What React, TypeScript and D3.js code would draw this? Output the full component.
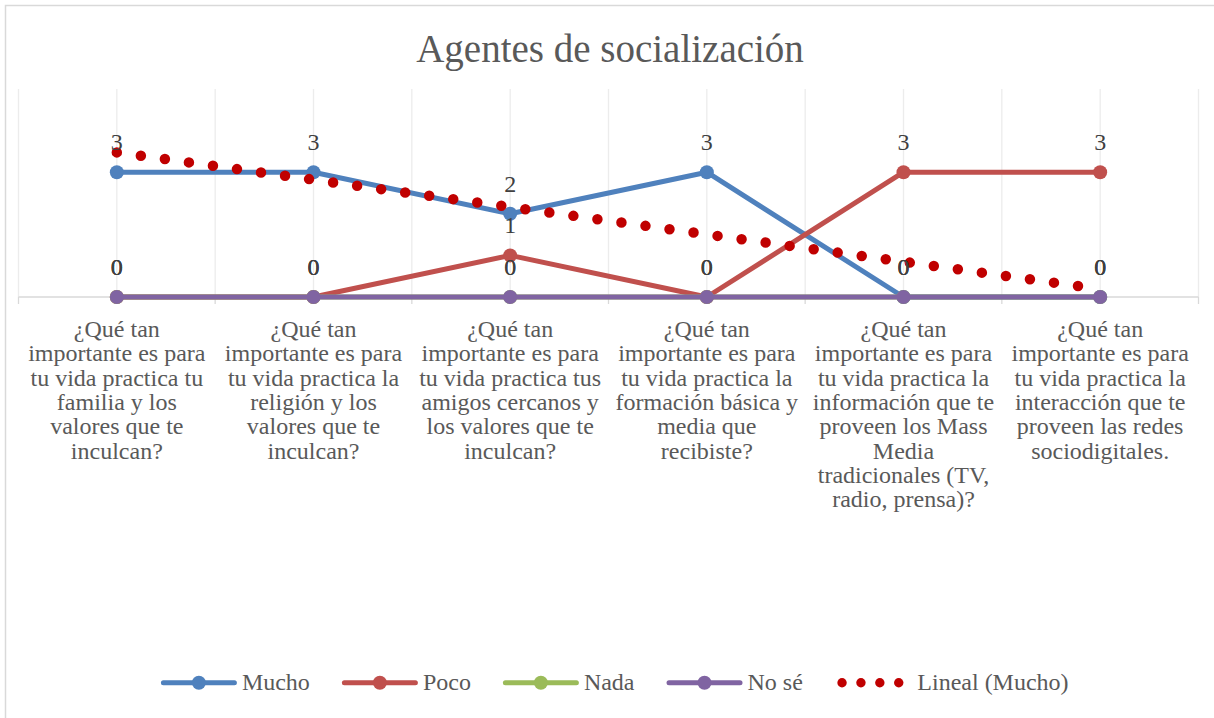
import React, { useMemo } from "react";
import * as d3 from "d3";

const title = "Agentes de socialización";

const categories: string[][] = [
  ["¿Qué tan", "importante es para", "tu vida practica tu", "familia y los", "valores que te", "inculcan?"],
  ["¿Qué tan", "importante es para", "tu vida practica la", "religión y los", "valores que te", "inculcan?"],
  ["¿Qué tan", "importante es para", "tu vida practica tus", "amigos cercanos y", "los valores que te", "inculcan?"],
  ["¿Qué tan", "importante es para", "tu vida practica la", "formación básica y", "media que", "recibiste?"],
  ["¿Qué tan", "importante es para", "tu vida practica la", "información que te", "proveen los Mass", "Media", "tradicionales (TV,", "radio, prensa)?"],
  ["¿Qué tan", "importante es para", "tu vida practica la", "interacción que te", "proveen las redes", "sociodigitales."],
];

const mucho = [3, 3, 2, 3, 0, 0];
const poco = [0, 0, 1, 0, 3, 3];
const nada = [0, 0, 0, 0, 0, 0];
const noSe = [0, 0, 0, 0, 0, 0];

const seriesNames = ["Mucho", "Poco", "Nada", "No sé"];
const seriesValues = [mucho, poco, nada, noSe];
const seriesColors = ["#4F81BD", "#C0504D", "#9BBB59", "#8064A2"];
const trendName = "Lineal (Mucho)";
const trendColor = "#C00000";

const W = 1214;
const H = 718;
const FONT = "'Liberation Serif', 'Times New Roman', serif";
const TEXT = "#595959";
const LABEL = "#404040";

function measure(text: string, size: number): number {
  if (typeof document === "undefined") return text.length * size * 0.5;
  const c = document.createElement("canvas");
  const ctx = c.getContext("2d");
  if (!ctx) return text.length * size * 0.5;
  ctx.font = `${size}px 'Liberation Serif'`;
  return ctx.measureText(text).width;
}

export default function App() {
  const plotLeft = 18.5;
  const plotRight = 1198.5;
  const plotTop = 89;
  const plotBottom = 297;

  const idx = d3.range(categories.length);
  const x = d3.scalePoint<number>().domain(idx).range([plotLeft, plotRight]).padding(0.5);
  const step = x.step();
  const y = d3.scaleLinear().domain([0, 5]).range([plotBottom, plotTop]);

  const line = d3
    .line<number>()
    .x((_, i) => x(i) as number)
    .y((d) => y(d));

  // linear trend (least squares) of "Mucho", x = 1..n
  const n = mucho.length;
  const xs = idx.map((i) => i + 1);
  const mx = d3.mean(xs) as number;
  const my = d3.mean(mucho) as number;
  const sxy = d3.sum(xs.map((xv, i) => (xv - mx) * (mucho[i] - my)));
  const sxx = d3.sum(xs.map((xv) => (xv - mx) ** 2));
  const slope = sxy / sxx;
  const intercept = my - slope * mx;
  const trendPts: [number, number][] = [
    [x(0) as number, y(intercept + slope * 1)],
    [x(n - 1) as number, y(intercept + slope * n)],
  ];
  const trendPath = d3.line()(trendPts) as string;

  // gridlines at boundaries and centers
  const gridXs: number[] = [];
  idx.forEach((i) => {
    gridXs.push((x(i) as number) - step / 2);
    gridXs.push(x(i) as number);
  });
  gridXs.push(plotRight);
  const boundaryXs = idx.map((i) => (x(i) as number) - step / 2).concat([plotRight]);

  // legend layout
  const legendFont = 24;
  const legend = useMemo(() => {
    const items = [
      ...seriesNames.map((name, i) => ({ name, color: seriesColors[i], trend: false })),
      { name: trendName, color: trendColor, trend: true },
    ];
    const symW = 71;
    const gapText = 7.5;
    const gapItem = 34.5;
    const extra = (t: boolean) => (t ? 1.5 : 0);
    const widths = items.map((it) => symW + extra(it.trend) + gapText + measure(it.name, legendFont));
    const total = d3.sum(widths) + gapItem * (items.length - 1);
    let cx = 616 - total / 2;
    return items.map((it, i) => {
      const r = { ...it, x: cx, textX: cx + symW + extra(it.trend) + gapText };
      cx += widths[i] + gapItem;
      return r;
    });
  }, []);
  const legendY = 682.7;

  const lineH = 24.3;
  const firstBaseline = 337;

  return (
    <svg
      width={W}
      height={H}
      style={{ position: "absolute", left: 0, top: 0, background: "#fff" }}
      fontFamily={FONT}
    >
      <rect x={5.5} y={5.5} width={W + 20} height={H + 20} fill="#fff" stroke="#d9d9d9" strokeWidth={1.5} />

      <text x={610} y={62} textAnchor="middle" fontSize={39} fill={TEXT}>
        {title}
      </text>

      {/* gridlines */}
      {gridXs.map((gx, i) => (
        <line key={"g" + i} x1={gx} x2={gx} y1={plotTop} y2={plotBottom} stroke="#ececec" strokeWidth={1.3} />
      ))}
      {/* axis */}
      <line x1={plotLeft} x2={plotRight} y1={plotBottom} y2={plotBottom} stroke="#d9d9d9" strokeWidth={1.6} />
      {boundaryXs.map((bx, i) => (
        <line key={"t" + i} x1={bx} x2={bx} y1={plotBottom} y2={plotBottom + 7} stroke="#d9d9d9" strokeWidth={1.3} />
      ))}

      {/* category labels */}
      {categories.map((lines, i) => (
        <text key={"c" + i} textAnchor="middle" fontSize={24} fill={TEXT}>
          {lines.map((ln, j) => (
            <tspan key={j} x={x(i) as number} y={firstBaseline + j * lineH}>
              {ln}
            </tspan>
          ))}
        </text>
      ))}

      {/* series */}
      {seriesValues.map((vals, s) => (
        <g key={"s" + s}>
          <path d={line(vals) as string} fill="none" stroke={seriesColors[s]} strokeWidth={5} strokeLinejoin="round" strokeLinecap="round" />
          {vals.map((v, i) => (
            <circle key={i} cx={x(i) as number} cy={y(v)} r={7} fill={seriesColors[s]} />
          ))}
        </g>
      ))}

      {/* trendline */}
      <path d={trendPath} fill="none" stroke={trendColor} strokeWidth={10.5} strokeLinecap="round" strokeDasharray="0 24.26" />

      {/* data labels */}
      {seriesValues.map((vals, s) =>
        vals.map((v, i) => (
          <text key={"l" + s + "-" + i} x={x(i) as number} y={y(v) - 22} textAnchor="middle" fontSize={24} fill={LABEL}>
            {v}
          </text>
        ))
      )}

      {/* legend */}
      {legend.map((it, i) => (
        <g key={"lg" + i}>
          {it.trend ? (
            d3.range(4).map((k) => (
              <circle key={k} cx={it.x + 4.7 + k * 18.9} cy={legendY} r={4.7} fill={it.color} />
            ))
          ) : (
            <>
              <line x1={it.x} x2={it.x + 71} y1={legendY} y2={legendY} stroke={it.color} strokeWidth={5} strokeLinecap="round" />
              <circle cx={it.x + 35.5} cy={legendY} r={7} fill={it.color} />
            </>
          )}
          <text x={it.textX} y={690} fontSize={legendFont} fill={TEXT}>
            {it.name}
          </text>
        </g>
      ))}
    </svg>
  );
}
